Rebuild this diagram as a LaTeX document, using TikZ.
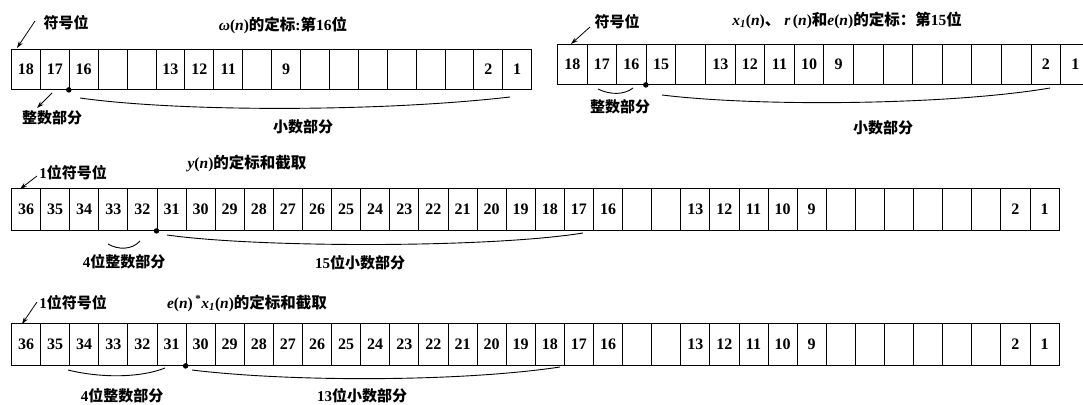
\documentclass[tikz,border=0pt]{standalone}
\usepackage{fontspec}
\setmainfont{Liberation Serif}
\newfontfamily\zhfont{Noto Sans CJK SC}
\newcommand\zh[1]{{\zhfont\bfseries #1}}
\usetikzlibrary{arrows.meta}
\tikzset{
 cellbox/.style={draw, line width=0.9pt, inner sep=0pt, anchor=north west, font=\fontsize{16}{16}\selectfont\bfseries},
 lbl/.style={inner sep=0pt, font=\fontsize{15}{15}\selectfont\bfseries},
 ttl/.style={inner sep=0pt, font=\fontsize{15.5}{15.5}\selectfont\bfseries},
 arr/.style={line width=0.8pt, -{Stealth[length=7pt,width=4.5pt]}},
 brc/.style={line width=0.9pt},
 dotn/.style={circle, fill, inner sep=0pt, minimum size=5.5pt},
}
\begin{document}
\begin{tikzpicture}[x=1pt,y=-1pt]
\useasboundingbox[fill=white] (0,0) rectangle (1083,404);
% ---------- Row A (top left)
\foreach \t [count=\i] in {18,17,16,{},{},13,12,11,{},9,{},{},{},{},{},{},2,1}
  \node[cellbox, minimum width=28.9pt, minimum height=40pt] (A\i) at ({11+(\i-1)*28.9},49) {\t};
% ---------- Row B (top right)
\foreach \t [count=\i] in {18,17,16,15,{},13,12,11,10,9,{},{},{},{},{},{},2,1}
  \node[cellbox, minimum width=29.6pt, minimum height=40pt] (B\i) at ({557+(\i-1)*29.6},44) {\t};
% ---------- Row C (middle)
\foreach \t [count=\i] in {36,35,34,33,32,31,30,29,28,27,26,25,24,23,22,21,20,19,18,17,16,{},{},13,12,11,10,9,{},{},{},{},{},{},2,1}
  \node[cellbox, minimum width=29.1pt, minimum height=42pt] (C\i) at ({11+(\i-1)*29.1},188) {\t};
% ---------- Row D (bottom)
\foreach \t [count=\i] in {36,35,34,33,32,31,30,29,28,27,26,25,24,23,22,21,20,19,18,17,16,{},{},13,12,11,10,9,{},{},{},{},{},{},2,1}
  \node[cellbox, minimum width=29.1pt, minimum height=42pt] (D\i) at ({11+(\i-1)*29.1},323) {\t};

% ---------- titles
\node[ttl] (tA) at (283,25) {\textit{ω}(\textit{n})\zh{的定标}:\zh{第}16\zh{位}};
\node[ttl] (tB) at (847,20) {\textit{x}\textsubscript{\textit{1}}(\textit{n})\zh{、} \textit{r}\,(\textit{n})\zh{和}\textit{e}(\textit{n})\zh{的定标：第}15\zh{位}};
\node[ttl] (tC) at (247,163) {\textit{y}(\textit{n})\zh{的定标和截取}};
\node[ttl] (tD) at (247,303) {\textit{e}(\textit{n})\,\textsuperscript{*}\textit{x}\textsubscript{\textit{1}}(\textit{n})\zh{的定标和截取}};

% ---------- labels
\node[lbl] (sA) at (66,23) {\zh{符号位}};
\node[lbl] (iA) at (52,118) {\zh{整数部分}};
\node[lbl] (fA) at (303,127) {\zh{小数部分}};
\node[lbl] (sB) at (617,22) {\zh{符号位}};
\node[lbl] (iB) at (620,107) {\zh{整数部分}};
\node[lbl] (fB) at (883,128) {\zh{小数部分}};
\node[lbl] (sC) at (73,173) {1\zh{位符号位}};
\node[lbl] (iC) at (124,262) {4\zh{位整数部分}};
\node[lbl] (fC) at (360,263) {15\zh{位小数部分}};
\node[lbl] (sD) at (73,303) {1\zh{位符号位}};
\node[lbl] (iD) at (122,396) {4\zh{位整数部分}};
\node[lbl] (fD) at (362,396) {13\zh{位小数部分}};

% ---------- arrows
\coordinate (aAs) at (35,21); \coordinate (aAe) at (17,48);
\draw[arr] (aAs) -- (aAe);
\coordinate (bAs) at (52,93); \coordinate (bAe) at (37,108);
\draw[arr] (bAs) -- (bAe);
\coordinate (aBs) at (590,27); \coordinate (aBe) at (571,44);
\draw[arr] (aBs) -- (aBe);
\coordinate (aCs) at (37,176); \coordinate (aCe) at (20,189);
\draw[arr] (aCs) -- (aCe);
\coordinate (aDs) at (37,302); \coordinate (aDe) at (22,324);
\draw[arr] (aDs) -- (aDe);

% ---------- dots
\node[dotn] (dA) at (A3.south west) {};
\node[dotn] (dB) at (B4.south west) {};
\node[dotn] (dC) at (C6.south west) {};
\node[dotn] (dD) at (D7.south west) {};

% ---------- braces (curves)
\coordinate (lA1) at (80,98);  \coordinate (lA2) at (510,97);
\draw[brc] (lA1) .. controls (180,112) and (380,112) .. (lA2);
\coordinate (sB1) at (598,89); \coordinate (sB2) at (633,88);
\draw[brc] (sB1) .. controls (610,95) and (624,95) .. (sB2);
\coordinate (lB1) at (662,95); \coordinate (lB2) at (1050,88);
\draw[brc] (lB1) .. controls (760,107) and (950,105) .. (lB2);
\coordinate (sC1) at (108,244); \coordinate (sC2) at (140,241);
\draw[brc] (sC1) .. controls (118,250) and (132,250) .. (sC2);
\coordinate (lC1) at (167,235); \coordinate (lC2) at (583,233);
\draw[brc] (lC1) .. controls (260,248) and (490,248) .. (lC2);
\coordinate (sD1) at (68,370); \coordinate (sD2) at (165,368);
\draw[brc] (sD1) .. controls (100,378) and (140,378) .. (sD2);
\coordinate (lD1) at (192,370); \coordinate (lD2) at (560,367);
\draw[brc] (lD1) .. controls (290,382) and (460,382) .. (lD2);
\end{tikzpicture}
\end{document}
